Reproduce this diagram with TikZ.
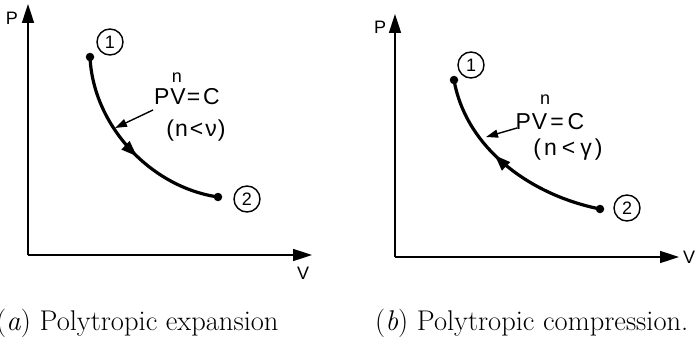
\documentclass[tikz,border=0pt]{standalone}
\usepackage{fontspec}
\newfontfamily\lab{Liberation Sans}
\usetikzlibrary{arrows.meta,decorations.markings}
\begin{document}
\begin{tikzpicture}[x=1pt,y=-1pt,
 axisline/.style={line width=1.6pt,-{Triangle[length=19pt,width=12pt]}},
 curveline/.style={line width=3.2pt,postaction={decorate},
   decoration={markings,mark=at position #1 with {\arrow{Triangle[length=16pt,width=11pt]}}}},
 leader/.style={line width=1.4pt,-{Triangle[length=12pt,width=8pt]}},
 dotpt/.style={circle,fill,inner sep=0,minimum size=8.5pt},
 circlab/.style={circle,draw,line width=1.4pt,inner sep=0,minimum size=26pt,font=\lab\fontsize{18}{18}\selectfont},
 lbl/.style={font=\lab\fontsize{23}{23}\selectfont,inner sep=0},
 supn/.style={font=\lab\fontsize{18}{18}\selectfont,inner sep=0},
 axlab/.style={font=\lab\fontsize{18}{18}\selectfont,inner sep=0},
 captext/.style={font=\fontsize{28.5}{32}\selectfont,anchor=base west,inner sep=0}]
\useasboundingbox (0,0) rectangle (695,342);
% ---------- (a) ----------
\coordinate (O1) at (28,255);
\coordinate (ya1) at (28,4);
\coordinate (xa1) at (312,255);
\draw[axisline] (O1) -- (ya1);
\draw[axisline] (O1) -- (xa1);
\node[axlab] (P1) at (12,18) {P};
\node[axlab] (V1) at (303,273) {V};
\node[dotpt] (a1) at (90,57) {};
\node[dotpt] (a2) at (218,197) {};
\node[circlab] (ca1) at (110,42) {1};
\node[circlab] (ca2) at (247,199) {2};
\draw[curveline=0.55] (a1.center) .. controls (93,125) and (150,187) .. (a2.center);
\node[lbl] (eqa) at (187,97) {P\kern1ptV\kern1pt=\kern3ptC};
\node[supn] (na) at (177,78) {n};
\node[lbl] (conda) at (196,131) {(\kern1ptn\kern2pt<\kern2ptν\kern1pt)};
\coordinate (sa) at (153,110);
\coordinate (ta) at (115,128);
\draw[leader] (sa) -- (ta);
\node[captext] (capa) at (-4,330) {(\textit{a}) Polytropic expansion};
% ---------- (b) ----------
\coordinate (O2) at (395,257);
\coordinate (ya2) at (395,14);
\coordinate (xa2) at (679,257);
\draw[axisline] (O2) -- (ya2);
\draw[axisline] (O2) -- (xa2);
\node[axlab] (P2) at (380,27) {P};
\node[axlab] (V2) at (689,257) {V};
\node[dotpt] (b1) at (454,80) {};
\node[dotpt] (b2) at (600,209) {};
\node[circlab] (cb1) at (471,65) {1};
\node[circlab] (cb2) at (627,208) {2};
\draw[curveline=0.58] (b2.center) .. controls (530,195) and (466,148) .. (b1.center);
\node[lbl] (eqb) at (550,122) {P\kern1ptV\kern3pt=\kern4ptC};
\node[supn] (nb) at (545,100) {n};
\node[lbl] (condb) at (568,150) {(\kern3ptn\kern5pt<\kern5ptγ\kern3pt)};
\coordinate (sb) at (517,128);
\coordinate (tb) at (486,137);
\draw[leader] (sb) -- (tb);
\node[captext] (capb) at (375,330) {(\textit{b}) Polytropic compression.};
\end{tikzpicture}
\end{document}
